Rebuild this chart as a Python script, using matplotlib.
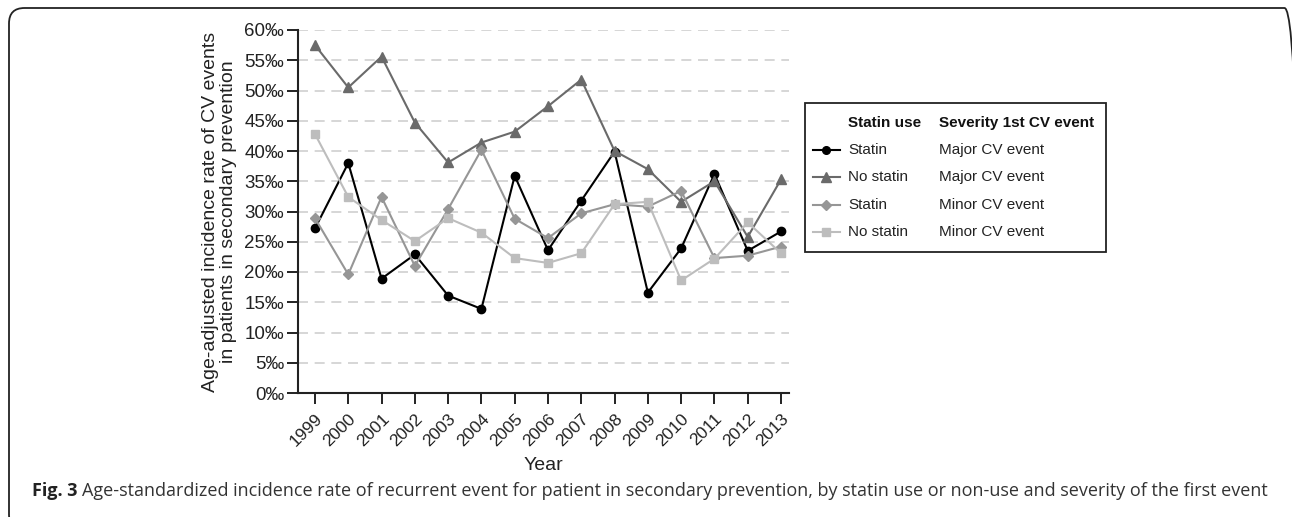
import numpy as np
import matplotlib
matplotlib.use("Agg")
import matplotlib.pyplot as plt
from matplotlib.lines import Line2D
from matplotlib.patches import Rectangle, FancyBboxPatch

W, H = 1292, 517
plt.rcParams['font.family'] = ['Liberation Sans', 'DejaVu Sans']

years = list(range(1999, 2014))

# incidence rates, per mille
statin_major = [27.2, 38.0, 18.9, 22.9, 16.1, 13.9, 35.9, 23.6, 31.8, 39.9, 16.6, 23.9, 36.2, 23.5, 26.7]
nostatin_major = [57.5, 50.5, 55.6, 44.7, 38.1, 41.4, 43.2, 47.4, 51.8, 40.0, 37.0, 31.6, 35.0, 25.8, 35.3]
statin_minor = [28.9, 19.6, 32.4, 21.0, 30.4, 40.2, 28.8, 25.6, 29.7, 31.2, 30.8, 33.4, 22.3, 22.7, 24.2]
nostatin_minor = [42.8, 32.4, 28.6, 25.1, 28.9, 26.5, 22.3, 21.5, 23.1, 31.2, 31.6, 18.6, 22.2, 28.2, 23.1]

series = [statin_major, nostatin_major, statin_minor, nostatin_minor]
statin_use = ['Statin', 'No statin', 'Statin', 'No statin']
severity = ['Major CV event', 'Major CV event', 'Minor CV event', 'Minor CV event']
colors = ['#000000', '#6a6a6a', '#969696', '#bdbdbd']
markers = ['o', '^', 'D', 's']
msizes = [6, 7.5, 5.5, 6]

yticks = list(range(0, 61, 5))
ytick_labels = ['%d\u2030' % v for v in yticks]

caption_bold = 'Fig. 3'
caption = ('Age-standardized incidence rate of recurrent event for patient in secondary prevention, '
           'by statin use or non-use and severity of the first event')


def fx(px):
    return px / W


def fy(py):
    return 1 - py / H


fig = plt.figure(figsize=(W / 100, H / 100), dpi=100)

# outer rounded frame
frame = FancyBboxPatch((fx(9), fy(530)), fx(1300) - fx(9), fy(8) - fy(530),
                       boxstyle="round,pad=0,rounding_size=0.012",
                       transform=fig.transFigure, fill=False, lw=1.3, ec='#222222',
                       mutation_aspect=W / H)
fig.patches.append(frame)

ax = fig.add_axes([fx(298), fy(393), fx(789) - fx(298), fy(30) - fy(393)])

for vals, c, m, ms in zip(series, colors, markers, msizes):
    ax.plot(years, vals, color=c, marker=m, markersize=ms, lw=1.5, mec=c, mfc=c, zorder=3)

ax.set_xlim(1998.49, 2013.24)
ax.set_ylim(0, 60)
ax.set_yticks(yticks)
ax.set_yticklabels(ytick_labels)
ax.set_xticks(years)
ax.set_xticklabels([str(y) for y in years], rotation=45, ha='right', va='top',
                   rotation_mode='anchor')

for v in yticks[1:]:
    ax.axhline(v, color='#cfcfcf', lw=1.2, dashes=(6, 4), zorder=1)

for s in ['top', 'right']:
    ax.spines[s].set_visible(False)
for s in ['left', 'bottom']:
    ax.spines[s].set_linewidth(1.5)
    ax.spines[s].set_color('#222222')
ax.tick_params(axis='both', direction='out', length=8, width=1.4, color='#222222',
               labelcolor='#222222')
ax.tick_params(axis='x', pad=5, labelsize=12.5)
ax.tick_params(axis='y', pad=2, labelsize=13.5)

ax.set_ylabel('Age-adjusted incidence rate of CV events\nin patients in secondary prevention',
              fontsize=14, color='#222222', linespacing=1.05)
ax.yaxis.set_label_coords(-0.124, 0.5)
ax.set_xlabel('Year', fontsize=14, color='#222222')
ax.xaxis.set_label_coords(0.5, -0.175)

# legend table
fig.patches.append(Rectangle((fx(805), fy(252)), fx(1106) - fx(805), fy(103) - fy(252),
                             transform=fig.transFigure, fill=False, lw=1.3, ec='#222222'))
fig.text(fx(848), fy(123), 'Statin use', fontsize=11, fontweight='bold', va='center', color='#111111')
fig.text(fx(939), fy(123), 'Severity 1st CV event', fontsize=11, fontweight='bold', va='center',
         color='#111111')
row_y = [150, 177, 205, 232]
for ry, c, m, ms, su, sv in zip(row_y, colors, markers, msizes, statin_use, severity):
    fig.add_artist(Line2D([fx(813), fx(840)], [fy(ry), fy(ry)], transform=fig.transFigure,
                          color=c, lw=1.5))
    fig.add_artist(Line2D([fx(826.5)], [fy(ry)], transform=fig.transFigure, color=c,
                          marker=m, markersize=ms - 0.5, mec=c, mfc=c))
    fig.text(fx(848), fy(ry), su, fontsize=11, va='center', color='#222222')
    fig.text(fx(939), fy(ry), sv, fontsize=11, va='center', color='#222222')

# caption, sized to span the frame width
cap_font = 'Open Sans'
fs = 11.5
t1 = fig.text(fx(32), fy(491), caption_bold, fontsize=fs, fontweight='bold', va='center',
              family=cap_font, color='#222222')
t2 = fig.text(fx(100), fy(491), caption, fontsize=fs, va='center', family=cap_font, color='#333333')
fig.canvas.draw()
r = fig.canvas.get_renderer()
total = t1.get_window_extent(r).width + 5 + t2.get_window_extent(r).width
fs = fs * (1278 - 32) / total
t1.set_fontsize(fs)
t2.set_fontsize(fs)
fig.canvas.draw()
x2 = t1.get_window_extent(r).x1 + 5
t2.set_x(x2 / W)

fig.savefig('out.png', dpi=100)
